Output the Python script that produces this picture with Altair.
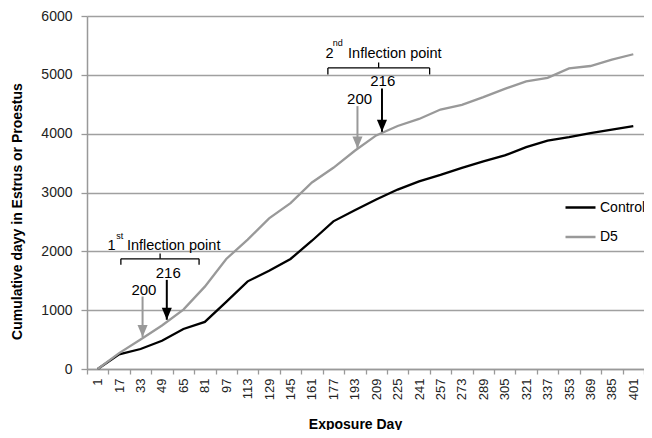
import altair as alt
import pandas as pd

FONT = "Liberation Sans"

# ---------------- data ----------------
days = [1, 17, 33, 49, 65, 81, 97, 113, 129, 145, 161, 177, 193, 209, 225,
        241, 257, 273, 289, 305, 321, 337, 353, 369, 385, 401]
control = [0, 250, 340, 480, 680, 800, 1140, 1490, 1670, 1870, 2180, 2510, 2700,
           2880, 3050, 3190, 3300, 3420, 3530, 3630, 3770, 3880, 3940, 4010, 4070, 4130]
d5 = [0, 270, 500, 740, 1010, 1400, 1870, 2200, 2560, 2820, 3170, 3420, 3710,
      3970, 4130, 4250, 4410, 4490, 4620, 4760, 4890, 4950, 5110, 5150, 5260, 5350]
series = ["Control", "D5"]
y_ticks = [0, 1000, 2000, 3000, 4000, 5000, 6000]

# annotation texts (data coordinates: exposure day, cumulative days)
head_text = ["1", "Inflection point", "2", "Inflection point"]
head_x = [8.3, 22.8, 171.1, 188.0]
head_y = [2015, 2015, 5291, 5291]
sup_text = ["st", "nd"]
sup_x = [14.9, 176.5]
sup_y = [2211, 5486]
num_text = ["200", "216", "200", "216"]
num_x = [35.5, 53.7, 196.6, 213.9]
num_y = [1261, 1544, 4502, 4807]

# arrows
arrow_series = ["D5", "Control", "D5", "Control"]
arrow_x = [34.5, 52.6, 195.0, 213.3]
arrow_top = [1232, 1515, 4468, 4768]
arrow_tip = [543, 837, 3750, 4032]

# brackets
br_x1 = [18.3, 172.9]
br_x2 = [76.7, 248.9]
br_mid = [47.6, 210.8]
br_y = [1872, 5118]
br_end = [1770, 5006]
br_tick = [1965, 5210]

# ---------------- tables ----------------
lines_df = pd.DataFrame({
    "day": days * 2,
    "value": control + d5,
    "series": [series[0]] * len(days) + [series[1]] * len(days),
})
head_df = pd.DataFrame({"x": head_x, "y": head_y, "t": head_text})
sup_df = pd.DataFrame({"x": sup_x, "y": sup_y, "t": sup_text})
num_df = pd.DataFrame({"x": num_x, "y": num_y, "t": num_text})
arrow_df = pd.DataFrame({"s": arrow_series, "x": arrow_x, "top": arrow_top, "tip": arrow_tip})
br_df = pd.DataFrame({"x1": br_x1, "x2": br_x2, "mid": br_mid, "y": br_y, "end": br_end, "tick": br_tick})

# category boundaries (Excel-style category axis: ticks between categories)
edges = [-7 + 16 * k for k in range(27)]
x_domain = [edges[0], edges[-1]]

colors = {"Control": "#000000", "D5": "#999999"}

label_axis = alt.Axis(
    orient="bottom", values=days, format="d", grid=False, ticks=False,
    labelAngle=270, labelFontSize=13, labelPadding=9, labelOverlap=False,
    labelColor="#222",
    domainColor="#999", domainWidth=1.5,
    title="Exposure Day", titleFontSize=14, titleFontWeight="bold",
    titleX=268, titleY=59, titleAlign="center", titleBaseline="alphabetic",
    titleColor="#000",
)
tick_axis = alt.Axis(
    orient="bottom", values=edges, grid=False, labels=False, domain=False,
    ticks=True, tickSize=5, tickColor="#999", tickWidth=1.3, title=None,
)
y_axis = alt.Axis(
    orient="left", values=y_ticks, format="d", grid=True, gridColor="#a0a0a0",
    gridWidth=1.3, tickSize=6, tickColor="#999", tickWidth=1.3, labelPadding=9,
    labelFontSize=14, labelColor="#222",
    domainColor="#999", domainWidth=1.5,
    title="Cumulative dayy in Estrus or Proestus", titleFontSize=14,
    titleFontWeight="bold", titleAngle=270, titleX=-70, titleY=195,
    titleAlign="center", titleBaseline="middle", titleColor="#000",
)

xs = alt.Scale(domain=x_domain, nice=False, zero=False)
ys = alt.Scale(domain=[0, 6000], nice=False)


def X(field, axis=None):
    return alt.X(field, type="quantitative", scale=xs, axis=axis)


def Y(field):
    return alt.Y(field, type="quantitative", scale=ys, axis=None)


lines = alt.Chart(lines_df).mark_line(strokeWidth=2.3).encode(
    x=X("day", label_axis),
    y=alt.Y("value:Q", scale=ys, axis=y_axis),
    color=alt.Color(
        "series:N",
        scale=alt.Scale(domain=series, range=[colors[s] for s in series]),
        legend=alt.Legend(
            orient="none", legendX=477, legendY=175, title=None,
            symbolType="stroke", symbolSize=900, symbolStrokeWidth=2.5,
            labelFontSize=14, labelColor="#000", labelOffset=3,
            rowPadding=5.5, padding=0,
        ),
    ),
    order="day:Q",
)

heads = alt.Chart(head_df).mark_text(
    align="left", baseline="alphabetic", fontSize=14.5, color="#000"
).encode(x=X("x"), y=Y("y"), text="t:N")
sups = alt.Chart(sup_df).mark_text(
    align="left", baseline="alphabetic", fontSize=9, color="#000"
).encode(x=X("x"), y=Y("y"), text="t:N")
nums = alt.Chart(num_df).mark_text(
    align="center", baseline="alphabetic", fontSize=15, color="#000"
).encode(x=X("x"), y=Y("y"), text="t:N")

TRI = "M-0.42,-1L0.42,-1L0,0Z"
arrow_layers = []
for s in series:
    base = alt.Chart(arrow_df).transform_filter(alt.datum.s == s)
    arrow_layers.append(
        base.mark_rule(strokeWidth=2, color=colors[s]).encode(
            x=X("x"), y=Y("top"), y2="tip:Q"
        )
    )
    arrow_layers.append(
        base.mark_point(shape=TRI, size=576, filled=True, color=colors[s],
                        opacity=1, strokeWidth=0).encode(
            x=X("x"), y=Y("tip")
        )
    )

br = alt.Chart(br_df)
br_layers = [
    br.mark_rule(strokeWidth=1.3, color="#000").encode(x=X("x1", tick_axis), x2="x2:Q", y=Y("y")),
    br.mark_rule(strokeWidth=1.3, color="#000").encode(x=X("x1"), y=Y("y"), y2="end:Q"),
    br.mark_rule(strokeWidth=1.3, color="#000").encode(x=X("x2"), y=Y("y"), y2="end:Q"),
    br.mark_rule(strokeWidth=1.3, color="#000").encode(x=X("mid"), y=Y("y"), y2="tick:Q"),
]

chart = alt.layer(lines, heads, sups, nums, *arrow_layers, *br_layers).resolve_axis(
    x="independent", y="independent"
).properties(
    width=557, height=353,
    autosize=alt.AutoSizeParams(type="none"),
    padding={"left": 79, "top": 8, "right": 0, "bottom": 61},
).configure(font=FONT).configure_view(stroke=None)

chart.save("out.html", embed_options={"renderer": "svg", "actions": False})
